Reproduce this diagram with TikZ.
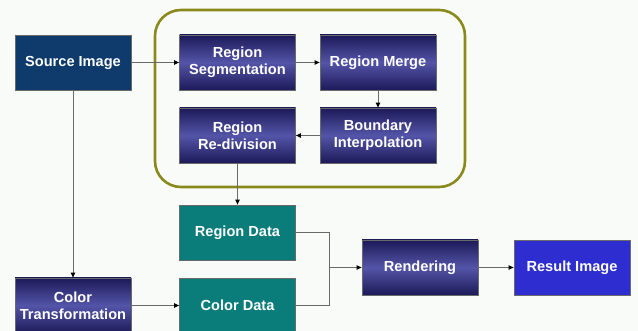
\documentclass[tikz,border=0pt]{standalone}
\usepackage{fontspec}
\setmainfont{Liberation Sans}
\usetikzlibrary{arrows.meta}
\definecolor{bgc}{HTML}{F9FBF9}
\definecolor{navy}{HTML}{0E3A6C}
\definecolor{purdark}{HTML}{1C1A58}
\definecolor{purlight}{HTML}{5454A8}
\definecolor{tealc}{HTML}{0A7C7A}
\definecolor{resc}{HTML}{2E2ED0}
\definecolor{olive}{HTML}{8A8A1C}
\definecolor{linec}{HTML}{6A6A6A}
\begin{document}
\begin{tikzpicture}[x=1pt,y=-1pt,
  box/.style={minimum width=116pt,minimum height=55pt,draw=linec,line width=0.8pt,
    text=white,font=\bfseries\fontsize{14.6}{17}\selectfont,align=center,inner sep=0pt},
  navybox/.style={box,fill=navy},
  purbox/.style={box,shade,shading=axis,top color=purdark,bottom color=purdark,middle color=purlight},
  tealbox/.style={box,fill=tealc},
  resbox/.style={box,fill=resc},
  conn/.style={draw=linec,line width=0.9pt},
  arr/.style={conn,-{Triangle[length=5pt,width=4.5pt,fill=black,color=black]}}
]
\useasboundingbox (0,0) rectangle (638,331);
\clip (0,0) rectangle (638,331);
\fill[bgc] (0,0) rectangle (638,331);
% container
\draw[olive,line width=2.6pt,rounded corners=26pt] (155,10) rectangle (465,187);
% nodes
\node[navybox] (src) at (73,62.5) {Source Image};
\node[purbox] (seg) at (237.5,62.5) {Region\\Segmentation};
\node[purbox] (mrg) at (378,62.5) {Region Merge};
\node[purbox] (bnd) at (378,135.5) {Boundary\\Interpolation};
\node[purbox] (rdv) at (237.5,135.5) {Region\\Re-division};
\node[tealbox] (rdata) at (237.5,232.5) {Region Data};
\node[tealbox] (cdata) at (237.5,305.5) {Color Data};
\node[purbox] (ctr) at (73,305.5) {Color\\Transformation};
\node[purbox] (rnd) at (420,267.5) {Rendering};
\node[resbox] (res) at (572,267.5) {Result Image};
\coordinate (jr) at (329,232.5);
\coordinate (jc) at (329,305.5);
\coordinate (jm) at (329,267.5);
% connectors
\draw[arr] (src) -- (seg);
\draw[arr] (seg) -- (mrg);
\draw[arr] (mrg) -- (bnd);
\draw[arr] (bnd) -- (rdv);
\draw[arr] (rdv) -- (rdata);
\draw[arr] (src) -- (ctr);
\draw[arr] (ctr) -- (cdata);
\draw[conn] (rdata.east) -- (jr) -- (jc) -- (cdata.east);
\draw[arr] (jm) -- (rnd);
\draw[arr] (rnd) -- (res);
\end{tikzpicture}
\end{document}
